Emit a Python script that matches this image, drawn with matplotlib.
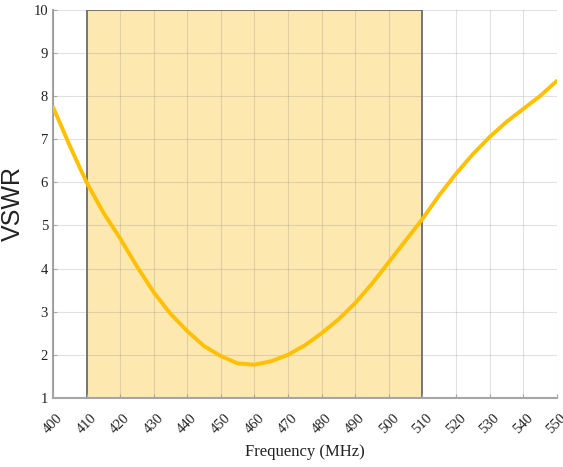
import matplotlib
matplotlib.use("Agg")
import matplotlib.pyplot as plt
from matplotlib.patches import Rectangle

# VSWR, every 5 MHz
freq_mhz = [400, 405, 410, 415, 420, 425, 430, 435, 440, 445, 450, 455, 460,
            465, 470, 475, 480, 485, 490, 495, 500, 505, 510, 515, 520, 525,
            530, 535, 540, 545, 550]
vswr = [7.75, 6.85, 6.0, 5.3, 4.7, 4.05, 3.45, 2.95, 2.55, 2.2, 1.97, 1.8, 1.77,
        1.85, 2.0, 2.22, 2.5, 2.82, 3.2, 3.65, 4.15, 4.65, 5.15, 5.7, 6.2, 6.65,
        7.05, 7.4, 7.7, 8.0, 8.35]

band = (410, 510)
x_ticks = list(range(400, 551, 10))
y_ticks = list(range(1, 11))

fig = plt.figure(figsize=(5.63, 4.67), dpi=100)
ax = fig.add_axes([0.094, 0.148, 0.895, 0.831])

ax.set_xlim(400, 550)
ax.set_ylim(1, 10)

ax.add_patch(Rectangle((band[0], 1), band[1] - band[0], 9,
                       facecolor="#fde8b0", edgecolor="#6b6b6b",
                       linewidth=1.3, zorder=1))

ax.plot(freq_mhz, vswr, color="#ffc000", linewidth=2.8,
        solid_capstyle="round", solid_joinstyle="round", zorder=3)

ax.set_xticks(x_ticks)
ax.set_yticks(y_ticks)
# dark grid at low alpha: light grey on white, tan over the band
ax.grid(True, color="#7a7a7a", linewidth=0.8, alpha=0.22, zorder=2)
ax.set_axisbelow(False)

for side in ["top", "right"]:
    ax.spines[side].set_visible(False)
for side in ["left", "bottom"]:
    ax.spines[side].set_color("#a6a6a6")
    ax.spines[side].set_linewidth(1.5)

ax.tick_params(axis="both", color="#a6a6a6", length=3, direction="in",
               labelsize=10.5, labelcolor="#222222")
for lbl in ax.get_xticklabels() + ax.get_yticklabels():
    lbl.set_family("Liberation Serif")
plt.setp(ax.get_xticklabels(), rotation=45, ha="center", va="top")
ax.tick_params(axis="x", pad=10)

ax.set_xlabel("Frequency (MHz)", family="Liberation Serif", fontsize=12,
              color="#222222")
ax.xaxis.set_label_coords(0.5, -0.118)
ax.set_ylabel("VSWR", family="Liberation Sans", fontsize=18,
              color="#222222")
ax.yaxis.set_label_coords(-0.056, 0.5)

fig.savefig("out.png", dpi=100)
